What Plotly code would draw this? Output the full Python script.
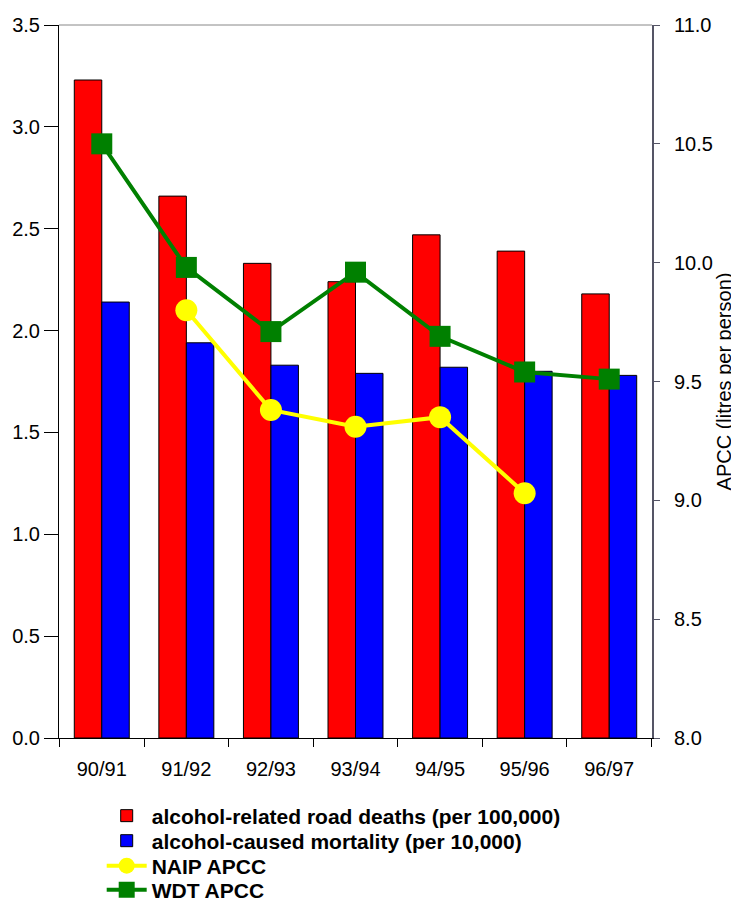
import plotly.graph_objects as go

years = ["90/91", "91/92", "92/93", "93/94", "94/95", "95/96", "96/97"]
road_deaths = [3.23, 2.66, 2.33, 2.24, 2.47, 2.39, 2.18]
mortality = [2.14, 1.94, 1.83, 1.79, 1.82, 1.80, 1.78]
naip_years = ["91/92", "92/93", "93/94", "94/95", "95/96"]
naip_apcc = [9.80, 9.38, 9.31, 9.35, 9.03]
wdt_apcc = [10.50, 9.98, 9.71, 9.96, 9.69, 9.54, 9.51]

font = "Liberation Sans, Arial, sans-serif"

fig = go.Figure()
fig.add_trace(go.Bar(x=years, y=road_deaths, name="alcohol-related road deaths (per 100,000)",
                     legend="legend",
                     marker=dict(color="#FF0000", line=dict(color="#000000", width=1))))
fig.add_trace(go.Bar(x=years, y=mortality, name="alcohol-caused mortality (per 10,000)",
                     legend="legend2",
                     marker=dict(color="#0000FF", line=dict(color="#000000", width=1))))
fig.add_trace(go.Scatter(x=naip_years, y=naip_apcc, name="NAIP APCC", yaxis="y2", mode="lines+markers",
                         legend="legend3",
                         line=dict(color="#FFFF00", width=4),
                         marker=dict(symbol="circle", size=22, color="#FFFF00")))
fig.add_trace(go.Scatter(x=years, y=wdt_apcc, name="WDT APCC", yaxis="y2", mode="lines+markers",
                         legend="legend4",
                         line=dict(color="#008000", width=4),
                         marker=dict(symbol="square", size=21, color="#008000")))

n = len(years)
boundaries = [i - 0.5 for i in range(n + 1)]


def leg(yc):
    return dict(x=0.072, y=yc, xanchor="left", yanchor="middle",
                font=dict(family=font, size=21, weight="bold", color="#000000"),
                itemwidth=40, bgcolor="rgba(0,0,0,0)")


fig.update_layout(
    width=731, height=920,
    margin=dict(l=51, r=87, t=17, b=190, autoexpand=False),
    plot_bgcolor="white", paper_bgcolor="white",
    barmode="group", bargap=0.35, bargroupgap=0,
    font=dict(family=font, size=20, color="#000000"),
    xaxis=dict(type="category", showline=True, linecolor="#000000", linewidth=1,
               ticks="outside", ticklen=8, tickcolor="#000000", tickson="boundaries",
               showgrid=False, tickfont=dict(size=20), automargin=False, ticklabelstandoff=13),
    xaxis2=dict(overlaying="x", range=[-0.5, n - 0.5], tickvals=boundaries, ticks="inside",
                ticklen=6, tickcolor="#000000", showticklabels=False, showgrid=False,
                zeroline=False, showline=False, side="bottom", anchor="y"),
    yaxis=dict(range=[0, 3.5], dtick=0.5, tickformat=".1f", showline=True,
               linecolor="#000000", linewidth=1, ticks="outside", ticklen=14,
               tickcolor="#000000", showgrid=False, zeroline=False, tickfont=dict(size=20),
               automargin=False),
    yaxis3=dict(overlaying="y", range=[0, 3.5], dtick=0.5, side="left", anchor="x",
                ticks="inside", ticklen=8, tickcolor="#000000", showticklabels=False,
                showgrid=False, zeroline=False, showline=False),
    yaxis2=dict(range=[8, 11], dtick=0.5, tickformat=".1f", overlaying="y", side="right",
                showline=True, linecolor="#555566", linewidth=2, ticks="outside", ticklen=6,
                tickcolor="#555566", showgrid=False, zeroline=False, tickfont=dict(size=20),
                automargin=True, ticklabelstandoff=10,
                title=dict(text="APCC (litres per person)", font=dict(size=20), standoff=3)),
    yaxis4=dict(overlaying="y", range=[8, 11], dtick=0.5, side="right", anchor="x",
                ticks="inside", ticklen=6, tickcolor="#555566", showticklabels=False,
                showgrid=False, zeroline=False, showline=False),
    legend=leg(-0.1094),
    legend2=leg(-0.1445),
    legend3=leg(-0.1795),
    legend4=leg(-0.2132),
    showlegend=True,
    shapes=[dict(type="line", xref="paper", yref="paper", x0=0, x1=1, y0=1, y1=1,
                 line=dict(color="#888888", width=1))],
)

fig.write_html("out.html")
